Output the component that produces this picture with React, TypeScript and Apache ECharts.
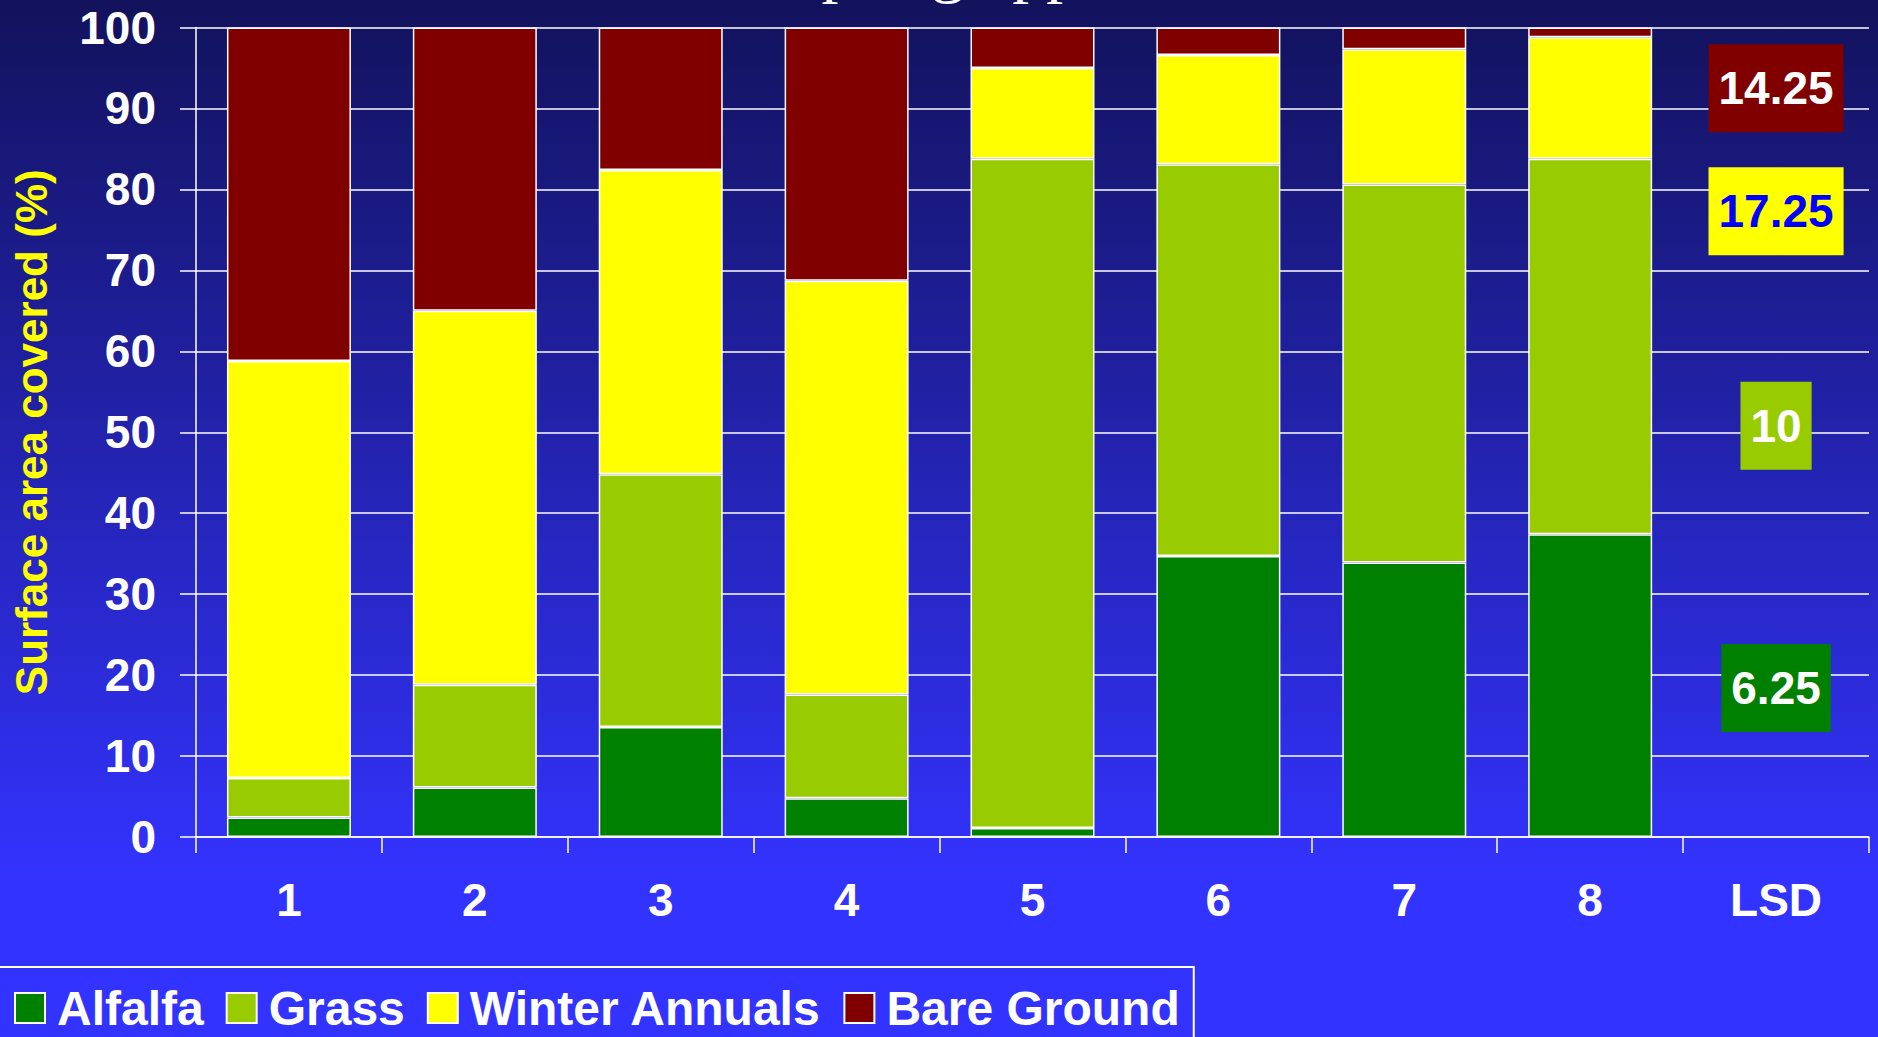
import React, { useEffect, useRef } from "react";
import * as echarts from "echarts";

const categories = ["1", "2", "3", "4", "5", "6", "7", "8", "LSD"];
const seriesNames = ["Alfalfa", "Grass", "Winter Annuals", "Bare Ground"];
const alfalfa = [2.4, 6.1, 13.6, 4.8, 1.1, 34.7, 33.9, 37.4];
const grass = [4.9, 12.7, 31.2, 12.8, 82.7, 48.4, 46.7, 46.4];
const winterAnnuals = [51.5, 46.2, 37.6, 51.1, 11.2, 13.5, 16.7, 15.0];
const bareGround = [41.2, 35.0, 17.6, 31.3, 5.0, 3.4, 2.7, 1.2];
const lsdValues = [6.25, 10, 17.25, 14.25];
const lsdLabelY = [18.4, 50.8, 77.3, 92.5];
const yTicks = { min: 0, max: 100, interval: 10 };

const colors = ["#008000", "#99CC00", "#FFFF00", "#800000"];
const lsdTextColors = ["#FFFFFF", "#FFFFFF", "#0000FF", "#FFFFFF"];
const FONT = "'Liberation Sans', Arial, sans-serif";

export default function App() {
  const ref = useRef<HTMLDivElement>(null);
  useEffect(() => {
    document.body.style.margin = "0";
    if (!ref.current) return;
    const chart = echarts.init(ref.current, null, { renderer: "svg" });
    const values = [alfalfa, grass, winterAnnuals, bareGround];
    const barSeries = seriesNames.map((name, i) => ({
      name,
      type: "bar",
      stack: "total",
      barWidth: "66.7%",
      data: values[i],
      itemStyle: { color: colors[i], borderColor: "#FFFFFF", borderWidth: 1.5 },
    }));
    const lsdSeries = {
      name: "LSD",
      type: "scatter",
      symbol: "rect",
      symbolSize: 0,
      itemStyle: { color: "#000000", opacity: 1 },
      z: 5,
      data: lsdValues.map((v, i) => ({
        value: ["LSD", lsdLabelY[i]],
        label: {
          show: true,
          position: "inside",
          formatter: String(v),
          backgroundColor: colors[i],
          color: lsdTextColors[i],
          opacity: 1,
          fontSize: 46,
          fontWeight: "bold",
          fontFamily: FONT,
          lineHeight: 46,
          padding: [21, 10, 21, 10],
        },
      })),
    };
    chart.setOption({
      animation: false,
      backgroundColor: "transparent",
      graphic: [
        {
          type: "text",
          x: 1034,
          y: -33,
          style: {
            text: "Spring application",
            fill: "#FFFFFF",
            font: "68px 'Liberation Serif', 'Times New Roman', serif",
            textAlign: "center",
            textVerticalAlign: "middle",
          },
        },
      ],
      legend: {
        data: seriesNames,
        left: -2,
        top: 967,
        orient: "horizontal",
        borderColor: "#FFFFFF",
        borderWidth: 2,
        padding: [17, 14, 40, 16],
        itemWidth: 30,
        itemHeight: 30,
        itemGap: 22,
        icon: "rect",
        itemStyle: { borderColor: "#FFFFFF", borderWidth: 2 },
        textStyle: {
          color: "#FFFFFF",
          fontSize: 48,
          fontWeight: "bold",
          fontFamily: FONT,
          lineHeight: 30,
          padding: [0, 0, 0, 7],
        },
      },
      grid: { left: 196, right: 9, top: 27.5, bottom: 200, containLabel: false },
      xAxis: {
        type: "category",
        data: categories,
        axisLine: { show: true, lineStyle: { color: "#FFFFFF", width: 1.5 } },
        axisTick: { show: true, length: 16, lineStyle: { color: "#FFFFFF", width: 1.5 } },
        axisLabel: {
          color: "#FFFFFF",
          fontSize: 46,
          fontWeight: "bold",
          fontFamily: FONT,
          margin: 40,
        },
      },
      yAxis: {
        type: "value",
        min: yTicks.min,
        max: yTicks.max,
        interval: yTicks.interval,
        name: "Surface area covered (%)",
        nameLocation: "middle",
        nameRotate: 90,
        nameGap: 143,
        nameTextStyle: {
          color: "#FFFF00",
          fontSize: 44,
          fontWeight: "bold",
          fontFamily: FONT,
        },
        axisLine: { show: true, lineStyle: { color: "#FFFFFF", width: 1.5 } },
        axisTick: { show: true, length: 16, lineStyle: { color: "#FFFFFF", width: 1.5 } },
        axisLabel: {
          color: "#FFFFFF",
          fontSize: 46,
          fontWeight: "bold",
          fontFamily: FONT,
          margin: 40,
        },
        splitLine: { show: true, lineStyle: { color: "#FFFFFF", width: 1.5 } },
      },
      series: [...barSeries, lsdSeries],
    });
    return () => chart.dispose();
  }, []);
  return (
    <div
      ref={ref}
      style={{
        position: "fixed",
        left: 0,
        top: 0,
        width: 1878,
        height: 1037,
        background: "linear-gradient(to bottom, #12125c 0%, #3333ff 85%, #3333ff 100%)",
      }}
    />
  );
}
